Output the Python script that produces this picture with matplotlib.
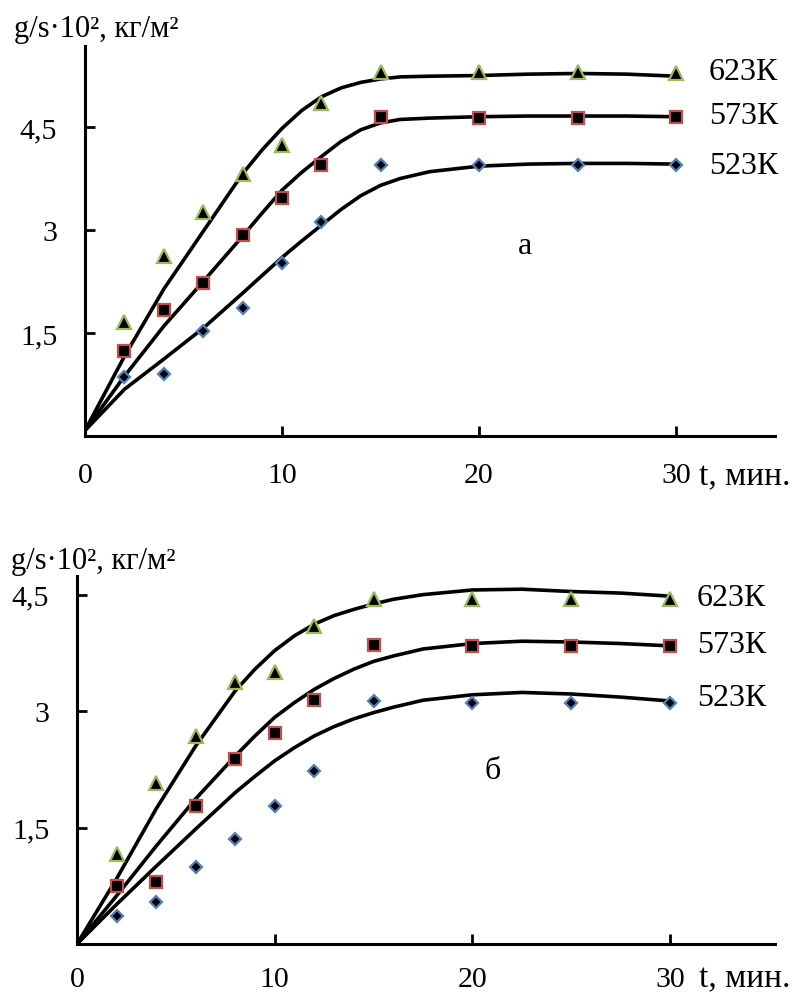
"""Two-panel kinetics plot: g/s·10² vs t for 523K, 573K, 623K (panels а and б)."""

import matplotlib
matplotlib.use("Agg")
import matplotlib.pyplot as plt

plt.rcParams["font.family"] = ["Liberation Serif", "DejaVu Serif"]

W, H = 795, 995

# measured points (both panels share the same time grid)
t_pts = [2, 4, 6, 8, 10, 12, 15, 20, 25, 30]

a_623 = [1.66, 2.62, 3.26, 3.81, 4.24, 4.85, 5.30, 5.30, 5.30, 5.28]
a_573 = [1.24, 1.83, 2.23, 2.93, 3.46, 3.94, 4.64, 4.63, 4.63, 4.64]
a_523 = [0.86, 0.90, 1.53, 1.86, 2.52, 3.12, 3.94, 3.94, 3.94, 3.94]

b_623 = [1.16, 2.08, 2.68, 3.37, 3.50, 4.09, 4.45, 4.45, 4.45, 4.45]
b_573 = [0.75, 0.80, 1.78, 2.38, 2.72, 3.14, 3.85, 3.84, 3.84, 3.84]
b_523 = [0.36, 0.54, 0.99, 1.35, 1.78, 2.23, 3.13, 3.11, 3.11, 3.11]

# fitted curves
t_fit = [0, 2, 4, 6, 8, 9, 10, 11, 12, 13, 14, 15, 16, 17.5, 20, 22.5, 25, 27.5, 30]

a_623_fit = [0.08, 1.16, 2.14, 2.98, 3.82, 4.17, 4.48, 4.74, 4.94, 5.07, 5.15,
             5.20, 5.23, 5.24, 5.25, 5.27, 5.28, 5.27, 5.24]
a_573_fit = [0.08, 0.87, 1.60, 2.25, 2.91, 3.25, 3.58, 3.84, 4.07, 4.29, 4.46,
             4.56, 4.61, 4.63, 4.65, 4.66, 4.66, 4.66, 4.65]
a_523_fit = [0.08, 0.68, 1.12, 1.57, 2.08, 2.34, 2.60, 2.84, 3.07, 3.30, 3.50,
             3.65, 3.75, 3.85, 3.93, 3.96, 3.97, 3.97, 3.96]

b_623_fit = [0.0, 0.84, 1.74, 2.55, 3.26, 3.54, 3.78, 3.97, 4.12, 4.23, 4.31,
             4.38, 4.44, 4.50, 4.56, 4.57, 4.54, 4.52, 4.48]
b_573_fit = [0.0, 0.62, 1.26, 1.87, 2.42, 2.68, 2.92, 3.11, 3.28, 3.42, 3.54,
             3.64, 3.71, 3.80, 3.87, 3.90, 3.89, 3.87, 3.84]
b_523_fit = [0.0, 0.51, 1.00, 1.48, 1.95, 2.16, 2.36, 2.53, 2.68, 2.80, 2.90,
             2.98, 3.05, 3.14, 3.21, 3.24, 3.22, 3.18, 3.13]

x_ticks = [10, 20, 30]
y_ticks = [1.5, 3, 4.5]
y_ticklabels = ["1,5", "3", "4,5"]
temps = ["623К", "573К", "523К"]

GREEN, RED, BLUE = "#9BBB59", "#C0504D", "#4F81BD"


def px_axes(fig, left, right, top, bottom):
    return fig.add_axes([left / W, 1 - bottom / H, (right - left) / W, (bottom - top) / H])


def draw_panel(ax, ymax, xmax, fits, pts, xpad):
    for y in fits:
        ax.plot(t_fit, y, color="black", lw=2.6, solid_joinstyle="round",
                solid_capstyle="round", zorder=2)
    styles = [("^", GREEN, 9.5), ("s", RED, 8), ("D", BLUE, 6.5)]
    for y, (m, c, ms) in zip(pts, styles):
        ax.plot(t_pts, y, ls="none", marker=m, ms=ms, mfc="black", mec=c,
                mew=1.6, zorder=3)
    ax.set_xlim(0, xmax)
    ax.set_ylim(0, ymax)
    ax.set_xticks([0] + x_ticks)
    ax.set_xticklabels(["0", "10", "20", "30"])
    ax.set_yticks(y_ticks)
    ax.set_yticklabels(y_ticklabels)
    for s in ("top", "right"):
        ax.spines[s].set_visible(False)
    for s in ("left", "bottom"):
        ax.spines[s].set_linewidth(2.2)
    ax.tick_params(axis="both", direction="in", length=7, width=2, labelsize=21.5)
    ax.tick_params(axis="x", pad=xpad)
    ax.tick_params(axis="y", pad=20)
    ax.xaxis.get_major_ticks()[0].tick1line.set_visible(False)
    ax.set_facecolor("none")


fig = plt.figure(figsize=(W / 100, H / 100), dpi=100)

ax_a = px_axes(fig, 85, 774.5, 47, 437)
draw_panel(ax_a, 5.68, 35.0, [a_623_fit, a_573_fit, a_523_fit],
           [a_623, a_573, a_523], xpad=19)

ax_b = px_axes(fig, 77, 775, 577, 945)
draw_panel(ax_b, 4.74, 35.3, [b_623_fit, b_573_fit, b_523_fit],
           [b_623, b_573, b_523], xpad=16)


def ftext(x, y, s, **kw):
    fig.text(x / W, 1 - y / H, s, va="center", **kw)


ylab = "g/s·10², кг/м²"
ftext(14, 30, ylab, fontsize=22)
ftext(11, 561, ylab, fontsize=22)

ftext(699, 477, "t, мин.", fontsize=24)
ftext(699, 979, "t, мин.", fontsize=24)

for lbl, y in zip(temps, [72, 117, 167]):
    ftext(709, y, lbl, fontsize=23)
for lbl, y in zip(temps, [598, 646, 698]):
    ftext(697, y, lbl, fontsize=23)

ftext(525, 246, "а", fontsize=23, ha="center")
ftext(493, 772, "б", fontsize=23, ha="center")

fig.savefig("out.png", dpi=100)
plt.close(fig)
